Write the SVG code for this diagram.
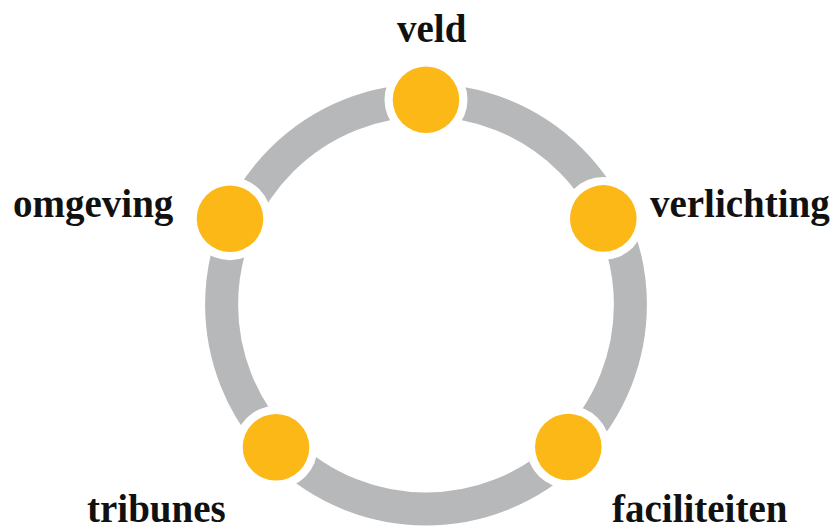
<svg xmlns="http://www.w3.org/2000/svg" width="835" height="529" viewBox="0 0 835 529">
<style>
.lbl{font-family:"Liberation Serif","Times New Roman",serif;font-weight:bold;font-size:39px;fill:#111}
.halo{fill:#fff}
.dot{fill:#FBB817}
</style>
<rect width="835" height="529" fill="#fff"/>
<g id="connectors">
<circle cx="426" cy="304.6" r="204.4" fill="none" stroke="#B7B8BA" stroke-width="33"/>
</g>
<g id="veld">
<circle class="halo" cx="426" cy="99.7" r="41.5"/>
<circle class="dot" cx="426" cy="99.7" r="33.3"/>
<text class="lbl" x="397" y="42">veld</text>
</g>
<g id="verlichting">
<circle class="halo" cx="603.3" cy="218.4" r="41.5"/>
<circle class="dot" cx="603.3" cy="218.4" r="33.3"/>
<text class="lbl" x="650" y="217">verlichting</text>
</g>
<g id="faciliteiten">
<circle class="halo" cx="568.3" cy="447" r="41.5"/>
<circle class="dot" cx="568.3" cy="447" r="33.3"/>
<text class="lbl" x="612" y="522">faciliteiten</text>
</g>
<g id="tribunes">
<circle class="halo" cx="276" cy="447.3" r="41.5"/>
<circle class="dot" cx="276" cy="447.3" r="33.3"/>
<text class="lbl" x="87" y="522">tribunes</text>
</g>
<g id="omgeving">
<circle class="halo" cx="230" cy="218.7" r="41.5"/>
<circle class="dot" cx="230" cy="218.7" r="33.3"/>
<text class="lbl" x="13" y="217">omgeving</text>
</g>
</svg>
